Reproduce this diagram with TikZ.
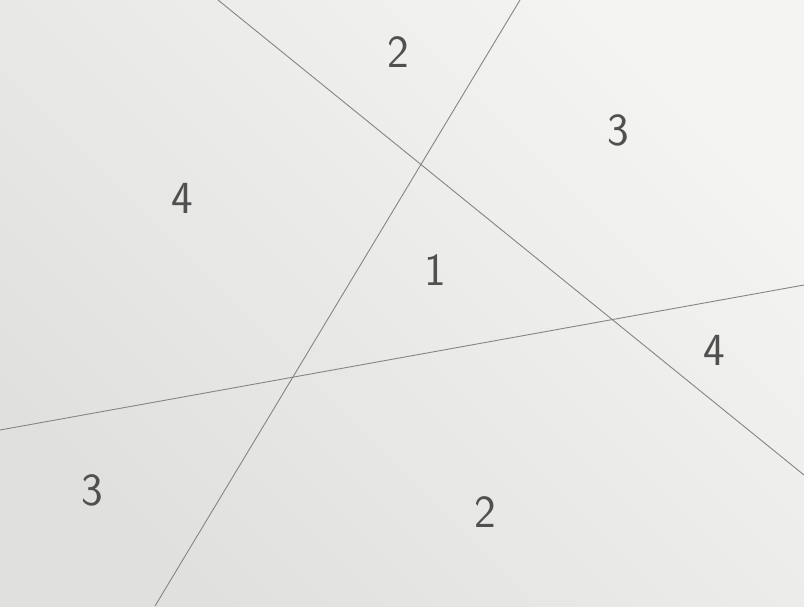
\documentclass[tikz,border=0pt]{standalone}
\usepackage{fontspec}
\setmainfont{DejaVu Sans}
\definecolor{paperA}{HTML}{F4F4F3}
\definecolor{paperB}{HTML}{E0E0DE}
\definecolor{pencil}{HTML}{858583}
\definecolor{ink}{HTML}{505050}
\tikzset{
  pline/.style={draw=pencil, line width=0.9pt},
  digit/.style={text=ink, font=\fontsize{46}{46}\selectfont\sffamily, inner sep=0pt}
}
\begin{document}
\begin{tikzpicture}[x=1pt,y=-1pt]
  \useasboundingbox (0,0) rectangle (804,606);
  \shade[left color=paperB, right color=paperA, shading angle=135] (0,0) rectangle (804,606);
  \draw[pline] (218,0) -- (804,475);
  \draw[pline] (520,0) -- (155,606);
  \draw[pline] (0,430) -- (804,285);
  \node[digit] (n2a) at (398,52) {2};
  \node[digit] (n3a) at (618,130) {3};
  \node[digit] (n4a) at (182,198) {4};
  \node[digit] (n1) at (435,270) {1};
  \node[digit] (n4b) at (714,350) {4};
  \node[digit] (n3b) at (92,490) {3};
  \node[digit] (n2b) at (485,512) {2};
\end{tikzpicture}
\end{document}
